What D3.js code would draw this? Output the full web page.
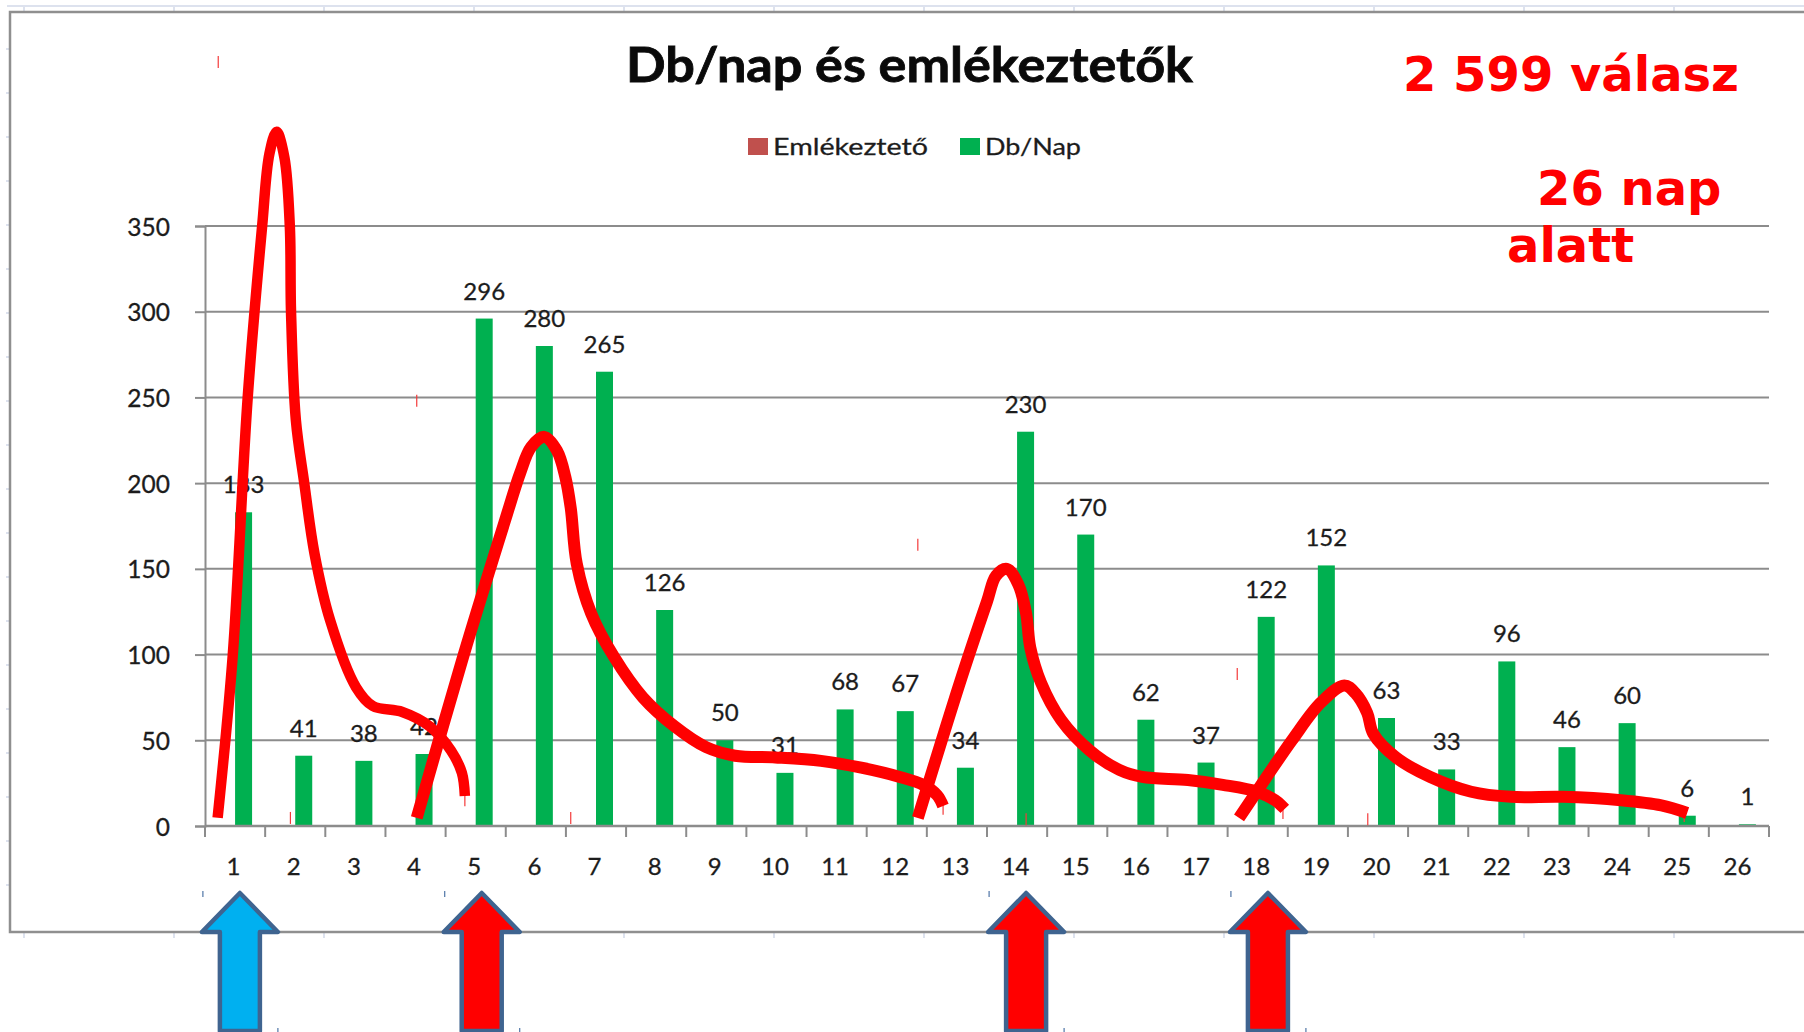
<!DOCTYPE html>
<html>
<head>
<meta charset="utf-8">
<title>Db/nap és emlékeztetők</title>
<script src="https://cdn.jsdelivr.net/npm/d3@7"></script>
<style>
    html, body { margin: 0; padding: 0; background: #fff; overflow: hidden; }
    svg { display: block; }
</style>
</head>
<body>
<div id="chart"></div>
<script>
(function() {
    'use strict';

    // chart data
    const days = d3.range(1, 27).map(String);
    const dailyCounts = [183, 41, 38, 42, 296, 280, 265, 126, 50, 31, 68, 67, 34, 230, 170, 62, 37, 122, 152, 63, 33, 96, 46, 60, 6, 1];
    const yTicks = [0, 50, 100, 150, 200, 250, 300, 350];
    const seriesNames = ['Emlékeztető', 'Db/Nap'];
    const seriesColors = ['#c0504d', '#00b050'];

    // reminder arrows: where on the day axis the tip is, what colour
    const arrowTips = [0.58, 4.6, 13.65, 17.67];
    const arrowColors = ['#00b0f0', '#ff0000', '#ff0000', '#ff0000'];

    // hand drawn red curves as [position on the day axis, value]
    const curve1 = [[.21,4.8],[.46,99],[.71,250],[.95,350],[1.07,392],[1.19,405],[1.32,390],[1.41,350],[1.43,300],[1.51,237],[1.65,200],[1.82,159],[2.08,120],[2.51,81],[2.79,70],[3.28,66.5],[3.74,58],[4.09,44],[4.27,31],[4.32,17.5]];
    const curve2 = [[3.52,4.7],[4.29,98.6],[4.99,178.5],[5.24,206],[5.42,221],[5.64,227],[5.85,219],[5.99,203.6],[6.08,185.5],[6.18,153],[6.42,124],[6.80,98.6],[7.28,75],[7.81,58],[8.33,46],[8.81,41],[9.48,40],[10.24,38],[10.91,34],[11.55,28.6],[11.94,24],[12.17,18],[12.27,11.7]];
    const curve3 = [[11.85,4.7],[12.58,87],[13.0,131],[13.15,146],[13.33,150],[13.52,141],[13.65,124],[13.72,104],[13.90,83.4],[14.23,62],[14.71,44],[15.20,32.7],[15.58,28.6],[16.34,26.8],[16.92,24],[17.49,20],[17.79,15],[17.95,10]];
    const curve4 = [[17.19,4.7],[18.07,50],[18.55,72],[18.94,82],[19.12,77.6],[19.32,66],[19.42,54],[19.80,40],[20.37,28.6],[21.05,20],[21.71,17],[22.58,17],[23.54,15],[24.21,12],[24.64,7.6]];
    const curves = [curve1, curve2, curve3, curve4];

    // little red leftovers of the curve selection boxes
    const strayMarks = [[.22,445.6],[3.52,248],[1.42,4.7],[6.08,4.7],[4.32,15],[11.85,164],[17.16,88.7],[13.65,4],[19.33,4],[12.27,10],[17.92,7.6],[24.59,5.8]];

    const width = 1804;
    const height = 1032;

    const marginTop = 226;
    const marginBottom = 206;
    const marginLeft = 205;
    const marginRight = 35;

    const labelFont = 'Lato, sans-serif';
    const textColor = '#1c1c1c';

    const svg = d3.select('#chart')
        .append('svg')
        .attr('width', width)
        .attr('height', height)
        .attr('font-family', labelFont);

    svg.append('rect').attr('width', width).attr('height', height).attr('fill', '#fff');

    // SCALES
    const x = d3.scaleBand()
        .domain(days)
        .range([marginLeft, width - marginRight]);

    const xSeries = d3.scaleBand()
        .domain(seriesNames)
        .range([x.bandwidth() / 2 - 17, x.bandwidth() / 2 + 17]);

    // continuous day axis for the drawn curves
    const xDay = d3.scaleLinear()
        .domain([0, days.length])
        .range([marginLeft, width - marginRight]);

    const y = d3.scaleLinear()
        .domain([0, 350])
        .range([height - marginBottom, marginTop]);

    const barCenter = d => x(d) + xSeries('Db/Nap') + xSeries.bandwidth() / 2;

    // SHEET BEHIND THE CHART (faint spreadsheet grid)
    const sheet = svg.append('g').attr('stroke', '#dde2ee').attr('fill', 'none');
    sheet.append('line').attr('x1', 7).attr('x2', width).attr('y1', 6).attr('y2', 6).attr('stroke-width', 2);
    d3.range(24, width, 150).forEach(function(px) {
        sheet.append('line').attr('x1', px).attr('x2', px).attr('y1', 6).attr('y2', 11).attr('stroke-width', 2);
        sheet.append('line').attr('x1', px).attr('x2', px).attr('y1', 933).attr('y2', 938).attr('stroke-width', 2);
    });
    d3.range(49, 925, 44).forEach(function(py) {
        sheet.append('line').attr('x1', 6).attr('x2', 9).attr('y1', py).attr('y2', py).attr('stroke-width', 2);
    });

    // FRAME
    svg.append('path')
        .attr('d', `M${width},12H10V932H${width}`)
        .attr('fill', 'none')
        .attr('stroke', '#8f8f8f')
        .attr('stroke-width', 2.5);

    // Y AXIS AND GRID
    const yAxis = svg.append('g')
        .attr('transform', `translate(${marginLeft},0)`)
        .call(d3.axisLeft(y).tickValues(yTicks).tickSize(10).tickPadding(25).tickFormat(d3.format('d')));
    yAxis.selectAll('path,line').attr('stroke', '#8c8c8c').attr('stroke-width', 2);
    yAxis.selectAll('text')
        .attr('font-size', 24.5)
        .attr('font-family', labelFont)
        .attr('fill', textColor)
        .attr('stroke', textColor)
        .attr('stroke-width', 0.3)
        .attr('dy', '0.37em');

    svg.append('g')
        .selectAll('line')
        .data(yTicks.filter(d => d > 0))
        .join('line')
        .attr('x1', marginLeft)
        .attr('x2', width - marginRight)
        .attr('y1', d => y(d))
        .attr('y2', d => y(d))
        .attr('stroke', '#8c8c8c')
        .attr('stroke-width', 2);

    // BARS
    svg.append('g')
        .selectAll('rect')
        .data(dailyCounts)
        .join('rect')
        .attr('x', (d, i) => x(days[i]) + xSeries('Db/Nap'))
        .attr('y', d => y(d))
        .attr('width', xSeries.bandwidth())
        .attr('height', d => y(0) - y(d))
        .attr('fill', seriesColors[1]);

    // X AXIS goes over the bars, the 1 on day 26 hides in it
    svg.append('line')
        .attr('x1', marginLeft)
        .attr('x2', width - marginRight)
        .attr('y1', y(0))
        .attr('y2', y(0))
        .attr('stroke', '#8c8c8c')
        .attr('stroke-width', 2.5);

    const xAxis = svg.append('g')
        .attr('transform', `translate(-1.5,${height - marginBottom})`)
        .call(d3.axisBottom(x).tickSize(0).tickPadding(32));
    xAxis.select('path').remove();
    xAxis.selectAll('text')
        .attr('font-size', 24)
        .attr('font-family', labelFont)
        .attr('fill', textColor)
        .attr('stroke', textColor)
        .attr('stroke-width', 0.3);

    // tick marks sit between the days
    svg.append('g')
        .selectAll('line')
        .data(d3.range(0, days.length + 1))
        .join('line')
        .attr('x1', d => xDay(d))
        .attr('x2', d => xDay(d))
        .attr('y1', y(0))
        .attr('y2', y(0) + 11)
        .attr('stroke', '#8c8c8c')
        .attr('stroke-width', 2);

    // VALUE LABELS
    svg.append('g')
        .selectAll('text')
        .data(dailyCounts)
        .join('text')
        .attr('x', (d, i) => barCenter(days[i]))
        .attr('y', d => y(d) - 19)
        .attr('text-anchor', 'middle')
        .attr('font-size', 24)
        .attr('fill', textColor)
        .attr('stroke', textColor)
        .attr('stroke-width', 0.3)
        .text(d => d);

    // TITLE
    svg.append('text')
        .attr('x', 909.5)
        .attr('y', 82)
        .attr('text-anchor', 'middle')
        .attr('font-size', 47)
        .attr('font-weight', 700)
        .attr('fill', '#0a0a0a')
        .attr('stroke', '#0a0a0a')
        .attr('stroke-width', 0.8)
        .attr('textLength', 567)
        .attr('lengthAdjust', 'spacingAndGlyphs')
        .text('Db/nap és emlékeztetők');

    // LEGEND
    const legendX = [748, 960];
    const legendTextWidth = [155, 96];
    const legend = svg.append('g')
        .selectAll('g')
        .data(seriesNames)
        .join('g')
        .attr('transform', (d, i) => `translate(${legendX[i]},138)`);
    legend.append('rect')
        .attr('width', 20)
        .attr('height', 17)
        .attr('fill', (d, i) => seriesColors[i]);
    legend.append('text')
        .attr('x', 25)
        .attr('y', 17)
        .attr('font-size', 24)
        .attr('fill', textColor)
        .attr('stroke', textColor)
        .attr('stroke-width', 0.3)
        .attr('textLength', (d, i) => legendTextWidth[i])
        .attr('lengthAdjust', 'spacingAndGlyphs')
        .text(d => d);

    // RED NOTES
    const notes = svg.append('g')
        .attr('font-family', '"DejaVu Sans", sans-serif')
        .attr('font-weight', 700)
        .attr('font-size', 48)
        .attr('fill', '#ff0000');
    notes.append('text').attr('x', 1403).attr('y', 91).text('2 599 válasz');
    notes.append('text').attr('x', 1537).attr('y', 205).text('26 nap');
    notes.append('text').attr('x', 1507).attr('y', 262).text('alatt');

    // STRAY MARKS
    svg.append('g')
        .selectAll('line')
        .data(strayMarks)
        .join('line')
        .attr('x1', d => xDay(d[0]))
        .attr('x2', d => xDay(d[0]))
        .attr('y1', d => y(d[1]) - 6)
        .attr('y2', d => y(d[1]) + 6)
        .attr('stroke', '#f43a3a')
        .attr('stroke-width', 1.2);

    // DRAWN CURVES
    const curveWidths = [10.5, 12, 12, 12];
    const curveLine = d3.line()
        .x(d => xDay(d[0]))
        .y(d => y(d[1]))
        .curve(d3.curveCatmullRom.alpha(0.5));

    svg.append('g')
        .selectAll('path')
        .data(curves)
        .join('path')
        .attr('d', curveLine)
        .attr('fill', 'none')
        .attr('stroke', '#ff0000')
        .attr('stroke-width', (d, i) => curveWidths[i])
        .attr('stroke-linejoin', 'round');

    // ARROWS
    const arrowTop = 893;
    const arrowNeck = 932;
    const arrowBottom = 1031;
    const arrowPath = function(cx) {
        return d3.line()([
            [cx, arrowTop], [cx + 38, arrowNeck], [cx + 20, arrowNeck], [cx + 20, arrowBottom],
            [cx - 20, arrowBottom], [cx - 20, arrowNeck], [cx - 38, arrowNeck]
        ]) + 'Z';
    };

    const arrows = svg.append('g')
        .selectAll('g')
        .data(arrowTips)
        .join('g');

    arrows.append('path')
        .attr('d', d => arrowPath(xDay(d)))
        .attr('fill', (d, i) => arrowColors[i])
        .attr('stroke', '#3f6490')
        .attr('stroke-width', 4.5)
        .attr('stroke-linejoin', 'round');

    // selection ticks at the corners of the arrow box
    arrows.append('line')
        .attr('x1', d => xDay(d) - 37)
        .attr('x2', d => xDay(d) - 37)
        .attr('y1', 891)
        .attr('y2', 897)
        .attr('stroke', '#4f75a6')
        .attr('stroke-width', 1.2);
    arrows.append('line')
        .attr('x1', d => xDay(d) + 38)
        .attr('x2', d => xDay(d) + 38)
        .attr('y1', 1028)
        .attr('y2', 1032)
        .attr('stroke', '#4f75a6')
        .attr('stroke-width', 1.2);
})();
</script>
</body>
</html>
